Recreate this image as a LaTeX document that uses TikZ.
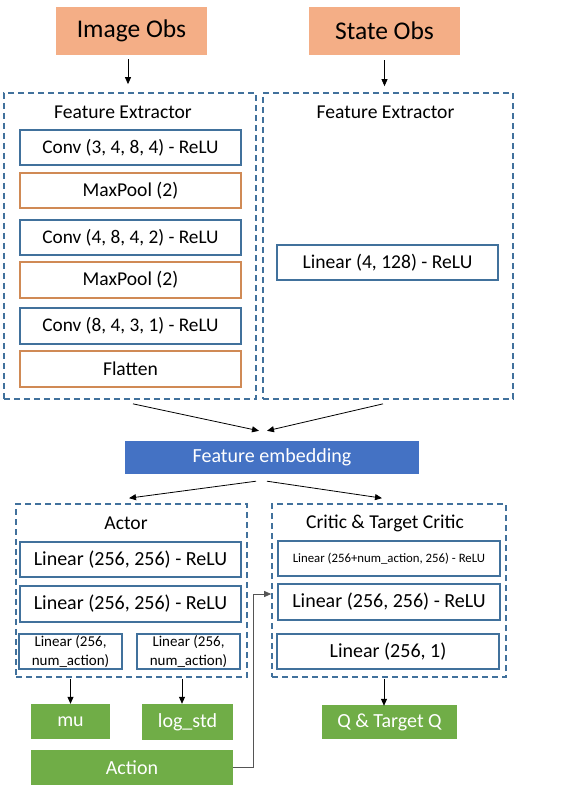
\documentclass[tikz,border=0pt]{standalone}
\usepackage{fontspec}
\setmainfont{Carlito}
\usetikzlibrary{arrows.meta,calc}
\definecolor{bblue}{HTML}{41719C}
\definecolor{oborder}{HTML}{D08A55}
\definecolor{ofill}{HTML}{F4AE86}
\definecolor{embfill}{HTML}{4472C4}
\definecolor{gfill}{HTML}{70AD47}
\definecolor{linkgray}{HTML}{555555}
\tikzset{
  box/.style={rectangle, inner sep=0pt, line width=1.6pt, font=\fontsize{19.6}{23}\selectfont},
  bluebox/.style={box, draw=bblue, fill=white},
  orangebox/.style={box, draw=oborder, fill=white},
  obsbox/.style={rectangle, inner sep=0pt, fill=ofill, font=\fontsize{25.5}{30}\selectfont},
  greenbox/.style={rectangle, inner sep=0pt, fill=gfill, text=white, font=\fontsize{20}{23}\selectfont},
  container/.style={rectangle, inner sep=0pt, draw=bblue, line width=1.7pt, dash pattern=on 6pt off 4pt},
  title/.style={inner sep=0pt, font=\fontsize{19.6}{23}\selectfont},
  arr/.style={line width=0.8pt, -{Triangle[length=7pt,width=6pt]}},
}
\begin{document}
\begin{tikzpicture}[x=1pt,y=-1pt]
\useasboundingbox (0,0) rectangle (570,791);
\fill[white] (0,0) rectangle (570,791);
% observations
\node[obsbox, minimum width=151pt, minimum height=48pt] (imgobs) at (131.5,31) {Image Obs};
\node[obsbox, minimum width=151pt, minimum height=48pt] (stateobs) at (384.5,31) {State Obs};
% feature extractor containers
\node[container, minimum width=252pt, minimum height=306pt] (fe1) at (130,246) {};
\node[container, minimum width=250pt, minimum height=306pt] (fe2) at (388,246) {};
\node[title] (fet1) at (123,112) {Feature Extractor};
\node[title] (fet2) at (385.5,112) {Feature Extractor};
\node[bluebox, font=\fontsize{19.3}{23}\selectfont, minimum width=221pt, minimum height=35pt] (conv1) at (130.5,147.5) {Conv (3, 4, 8, 4) - ReLU};
\node[orangebox, minimum width=221pt, minimum height=35pt] (mp1) at (130.5,190.5) {MaxPool (2)};
\node[bluebox, font=\fontsize{19.3}{23}\selectfont, minimum width=221pt, minimum height=35pt] (conv2) at (130.5,237.5) {Conv (4, 8, 4, 2) - ReLU};
\node[orangebox, minimum width=221pt, minimum height=36pt] (mp2) at (130.5,280) {MaxPool (2)};
\node[bluebox, font=\fontsize{19.3}{23}\selectfont, minimum width=221pt, minimum height=36pt] (conv3) at (130.5,326) {Conv (8, 4, 3, 1) - ReLU};
\node[orangebox, minimum width=221pt, minimum height=36pt] (flat) at (130.5,369) {Flatten};
\node[bluebox, minimum width=221pt, minimum height=35pt] (lin4) at (387.5,262.5) {Linear (4, 128) - ReLU};
% embedding
\node[rectangle, inner sep=0pt, fill=embfill, text=white, font=\fontsize{20}{23}\selectfont, minimum width=294pt, minimum height=33pt] (femb) at (272,457.5) {Feature embedding};
% actor
\node[container, minimum width=231pt, minimum height=173pt] (actor) at (131.5,590.5) {};
\node[title] (actt) at (126,523) {Actor};
\node[bluebox, font=\fontsize{20}{23}\selectfont, minimum width=221pt, minimum height=35pt] (al1) at (130.5,559.5) {Linear (256, 256) - ReLU};
\node[bluebox, font=\fontsize{20}{23}\selectfont, minimum width=221pt, minimum height=36pt] (al2) at (130.5,604) {Linear (256, 256) - ReLU};
\node[bluebox, minimum width=103pt, minimum height=35pt, align=center, font=\fontsize{15}{19}\selectfont] (as1) at (70.5,651.5) {Linear (256,\\num\_action)};
\node[bluebox, minimum width=103pt, minimum height=35pt, align=center, font=\fontsize{15}{19}\selectfont] (as2) at (188.5,651.5) {Linear (256,\\num\_action)};
% critic
\node[container, minimum width=234pt, minimum height=173pt] (critic) at (389,590.5) {};
\node[title] (critt) at (385,523) {Critic \& Target Critic};
\node[bluebox, minimum width=222pt, minimum height=35pt, font=\fontsize{12.8}{16}\selectfont] (cl1) at (389,558.5) {Linear (256+num\_action, 256) - ReLU};
\node[bluebox, font=\fontsize{20}{23}\selectfont, minimum width=222pt, minimum height=36pt] (cl2) at (389,602) {Linear (256, 256) - ReLU};
\node[bluebox, font=\fontsize{20}{23}\selectfont, minimum width=222pt, minimum height=35pt] (cl3) at (388,651.5) {Linear (256, 1)};
% outputs
\node[greenbox, minimum width=79pt, minimum height=35pt] (mu) at (70.5,721.5) {mu};
\node[greenbox, minimum width=91pt, minimum height=36pt] (logstd) at (187.5,722) {log\_std};
\node[greenbox, minimum width=135pt, minimum height=34pt] (qq) at (389.5,722) {Q \& Target Q};
\node[greenbox, minimum width=202pt, minimum height=35pt] (action) at (132,767.5) {Action};
% arrows
\draw[arr] ([yshift=-4pt,xshift=-3.5pt]imgobs.south) -- ([yshift=8pt,xshift=-3.5pt]imgobs.south |- fe1.north);
\draw[arr] ([yshift=-5pt]stateobs.south) -- ([yshift=6pt]stateobs.south |- fe2.north);
\draw[arr] ([xshift=3pt,yshift=-4pt]fe1.south) -- ([xshift=-13pt,yshift=10pt]femb.north);
\draw[arr] ([xshift=-5pt,yshift=-4pt]fe2.south) -- ([xshift=-5pt,yshift=10pt]femb.north);
\draw[arr] ([xshift=-16pt,yshift=-7pt]femb.south) -- ([xshift=-2.5pt,yshift=5pt]actor.north);
\draw[arr] ([xshift=-5pt,yshift=-7pt]femb.south) -- ([xshift=-7pt,yshift=5pt]critic.north);
\draw[arr] ([yshift=-1pt]mu.north |- actor.south) -- (mu.north);
\draw[arr] ([xshift=-5.5pt,yshift=-1pt]logstd.north |- actor.south) -- ([xshift=-5.5pt]logstd.north);
\draw[arr] ([xshift=-5.5pt,yshift=-1pt]qq.north |- critic.south) -- ([xshift=-5.5pt,yshift=-1pt]qq.north);
\coordinate (bend) at (253,767.5);
\draw[arr, draw=linkgray] (action.east) -- (bend) |- ([yshift=8pt]critic.west |- cl2.west);
\end{tikzpicture}
\end{document}
